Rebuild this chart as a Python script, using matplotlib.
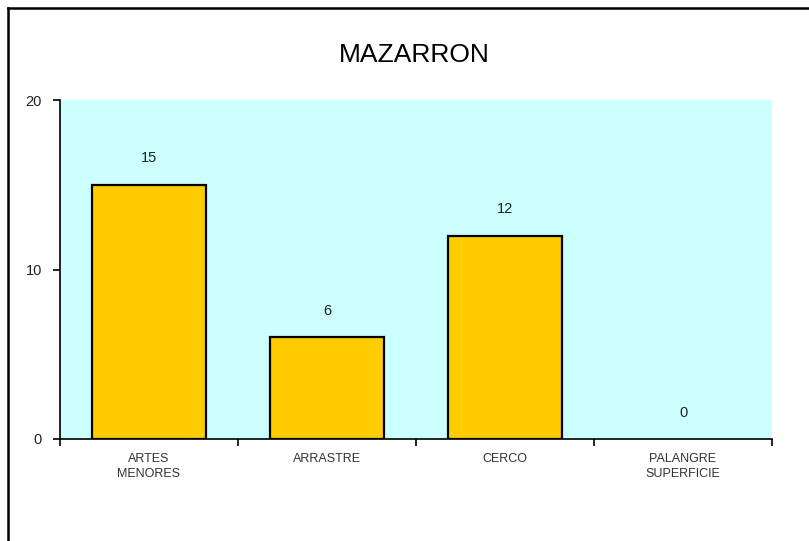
import matplotlib.pyplot as plt
from matplotlib.lines import Line2D
import numpy as np

# data
categories = ["ARTES\nMENORES", "ARRASTRE", "CERCO", "PALANGRE\nSUPERFICIE"]
values = [15, 6, 12, 0]
title = "MAZARRON"

plt.rcParams['font.family'] = ['Liberation Sans', 'DejaVu Sans']

W, H = 809, 541
fig = plt.figure(figsize=(W / 100, H / 100), dpi=100)
fig.patch.set_facecolor("white")

# frame lines (top and left only)
fig.add_artist(Line2D([8 / W, 1], [1 - 8 / H, 1 - 8 / H], color="black", lw=1.8))
fig.add_artist(Line2D([8 / W, 8 / W], [0, 1 - 8 / H], color="black", lw=1.8))

ax = fig.add_axes([60 / W, 1 - 439 / H, 712 / W, 339 / H])
ax.set_facecolor("#CCFFFF")

x = np.arange(len(categories))
bars = ax.bar(x, values, width=0.635, color="#FFCC00", edgecolor="black", linewidth=1.6)
for b, v in zip(bars, values):
    if v == 0:
        b.set_linewidth(0)

for xi, v in zip(x, values):
    ax.annotate(str(v), (xi, v), xytext=(0, 19), textcoords="offset points",
                ha="center", va="center", fontsize=10.5, color="#222222")

ax.set_xlim(-0.5, len(categories) - 0.5)
ax.set_ylim(0, 20)
ax.set_yticks([0, 10, 20])
ax.set_xticks(x)
ax.set_xticklabels(categories, fontsize=9, color="#333333", linespacing=1.3)
ax.set_xticks(np.arange(len(categories) + 1) - 0.5, minor=True)
ax.tick_params(axis="x", which="major", length=0, pad=10)
ax.tick_params(axis="x", which="minor", length=5, width=1.2, direction="out")
ax.tick_params(axis="y", length=5, width=1.2, labelsize=10.5, pad=8, labelcolor="#222222")

for s in ["top", "right"]:
    ax.spines[s].set_visible(False)
for s in ["left", "bottom"]:
    ax.spines[s].set_linewidth(1.2)

fig.text(414 / W, 1 - 55 / H, title, ha="center", va="center", fontsize=19)

fig.savefig("out.png", dpi=100)
